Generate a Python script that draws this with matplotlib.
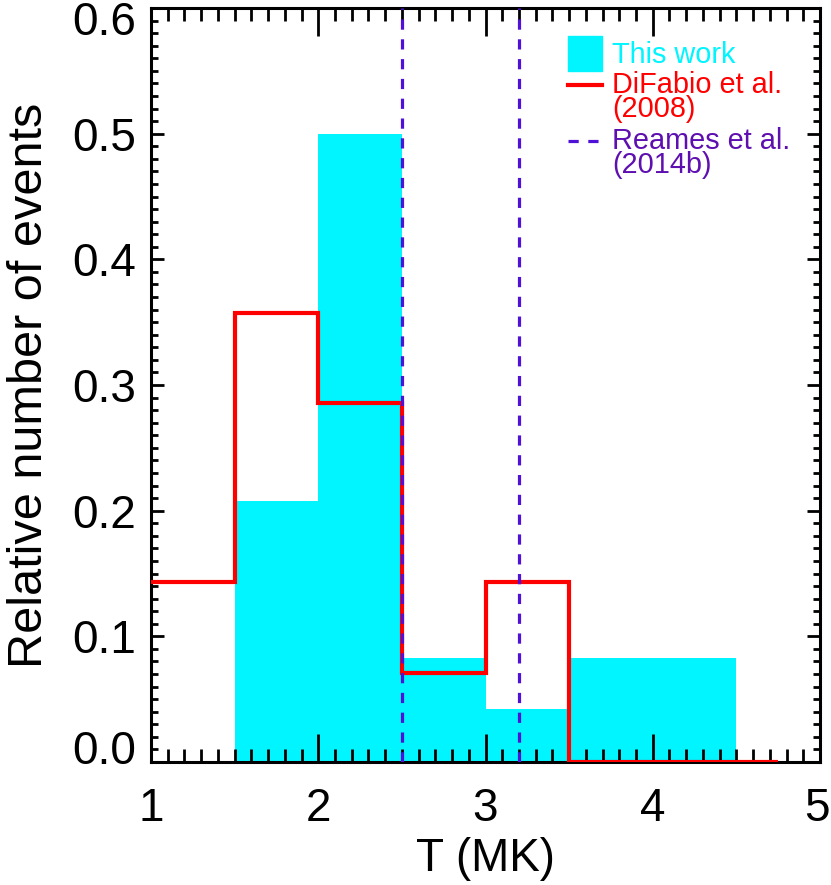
import matplotlib
matplotlib.use("Agg")
import matplotlib.pyplot as plt
from matplotlib.patches import Rectangle
from matplotlib.lines import Line2D
from matplotlib.ticker import MultipleLocator
from matplotlib.transforms import ScaledTranslation

plt.rcParams['font.family'] = ['Liberation Sans', 'DejaVu Sans']

# Data
this_work_edges = [1.5, 2.0, 2.5, 3.0, 3.5, 4.0, 4.5]
this_work_values = [0.208, 0.500, 0.083, 0.042, 0.083, 0.083]
difabio_edges = [1.0, 1.5, 2.0, 2.5, 3.0, 3.5, 4.75]
difabio_values = [0.143, 0.357, 0.286, 0.071, 0.143, 0.0]
reames_T = [2.5, 3.2]
xticks = [1, 2, 3, 4, 5]
yticks = [0.0, 0.1, 0.2, 0.3, 0.4, 0.5, 0.6]

CYAN = '#00F5FF'
RED = '#FF0000'
PURPLE_LINE = '#5010D8'
PURPLE_TEXT = '#5E0FB0'

fig = plt.figure(figsize=(8.31, 8.85), dpi=100)
ax = fig.add_axes([151/831, 1-762/885, 669/831, 754/885])

ax.stairs(this_work_values, this_work_edges, fill=True, color=CYAN, zorder=1)
ax.stairs(difabio_values, difabio_edges, baseline=None, color=RED, lw=3.0, zorder=3)
for xv in reames_T:
    ax.axvline(xv, color=PURPLE_LINE, lw=2.3, linestyle=(0, (3.2, 3.0)), zorder=4)

ax.set_xlim(1, 5)
ax.set_ylim(0, 0.6)
ax.set_xticks(xticks)
ax.set_xticklabels([str(t) for t in xticks])
ax.set_yticks(yticks)
ax.set_yticklabels([f"{t:.1f}" for t in yticks])
ax.xaxis.set_minor_locator(MultipleLocator(0.1))
ax.yaxis.set_minor_locator(MultipleLocator(0.01))

ax.tick_params(axis='both', which='both', direction='in', top=True, right=True,
               width=2.0, colors='black', labelsize=33)
ax.tick_params(axis='x', which='major', length=20, pad=18)
ax.tick_params(axis='x', which='minor', length=9.5)
ax.tick_params(axis='y', which='major', length=9.5, pad=11)
ax.tick_params(axis='y', which='minor', length=4.8)
for s in ax.spines.values():
    s.set_linewidth(2.2)

ax.set_xlabel('T (MK)', fontsize=33, labelpad=4)
ax.set_ylabel('Relative number of events', fontsize=35, labelpad=14)

# Edge tick labels pulled inward like the reference
def shift_label(lbl, dx_px, dy_px):
    lbl.set_transform(lbl.get_transform() + ScaledTranslation(dx_px / 100, dy_px / 100, fig.dpi_scale_trans))

yt = ax.yaxis.get_major_ticks()
shift_label(yt[0].label1, 0, 15)
shift_label(yt[-1].label1, 0, -10)
xt = ax.xaxis.get_major_ticks()
shift_label(xt[-1].label1, -3, 0)

# Legend (manual)
def ax_xy(px, py):
    return ((px - 151) / 669, (762 - py) / 754)

x0, y0 = ax_xy(568, 71)
x1, y1 = ax_xy(602, 36)
ax.add_patch(Rectangle((x0, y0), x1 - x0, y1 - y0, transform=ax.transAxes,
                       color=CYAN, zorder=5, clip_on=False))
lx0, ly = ax_xy(568, 85)
lx1, _ = ax_xy(602, 85)
ax.add_line(Line2D([lx0, lx1], [ly, ly], transform=ax.transAxes, color=RED, lw=3.0, zorder=5))
_, py_ = ax_xy(0, 141)
ax.add_line(Line2D([lx0, lx1], [py_, py_], transform=ax.transAxes, color=PURPLE_LINE,
                   lw=2.3, linestyle=(0, (3.2, 3.0)), zorder=5))

tx, _ = ax_xy(612, 0)
legend_fs = 20.8
# baseline positions refer to the last line of each entry
for text, py, col in [("This work", 63, CYAN),
                      ("DiFabio et al.\n(2008)", 117, RED),
                      ("Reames et al.\n(2014b)", 173, PURPLE_TEXT)]:
    _, ty = ax_xy(0, py)
    ax.text(tx, ty, text, transform=ax.transAxes, color=col, fontsize=legend_fs,
            ha='left', va='baseline', linespacing=0.83, zorder=6)

fig.savefig('out.png', dpi=100)
